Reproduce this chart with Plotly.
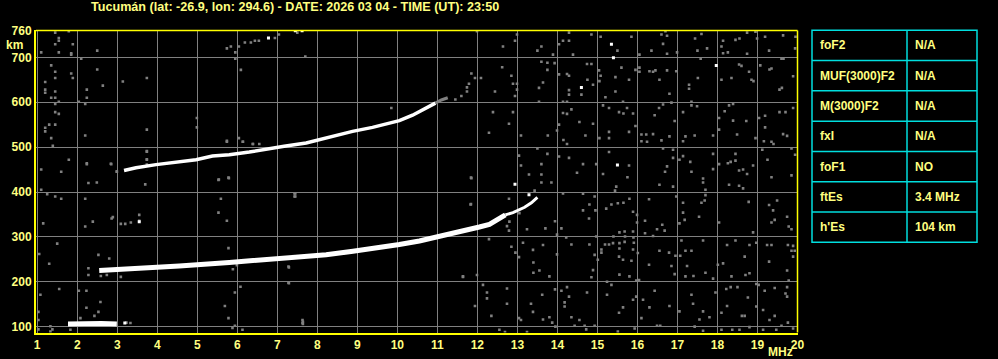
import plotly.graph_objects as go

# ---------------- data ----------------
title_text = "Tucumán (lat: -26.9, lon: 294.6) - DATE: 2026 03 04 - TIME (UT): 23:50"
freq_ticks = list(range(1, 21))
height_ticks = [100, 200, 300, 400, 500, 600, 700, 760]

# F-layer trace (first hop), MHz / km
f1_freq = [2.55, 3.3, 4.55, 5.8, 7.07, 7.72, 8.22, 8.89, 9.39, 10.05, 10.55, 10.97, 11.39, 11.72, 12.05, 12.3, 12.5, 12.7]
f1_height = [225, 228, 235, 243, 252, 255, 260, 268, 274, 283, 291, 299, 308, 316, 322, 328, 338, 349]
f1_end_freq = [12.7, 12.89, 13.18, 13.35, 13.5]
f1_end_height = [349, 354, 366, 376, 388]

# second hop trace
f2_freq = [3.17, 3.47, 3.97, 4.47, 4.97, 5.38, 5.8, 6.3, 6.8, 7.17, 7.72, 8.22, 8.88, 9.38, 9.8, 10.05, 10.38, 10.72, 10.95]
f2_height = [448, 454, 461, 467, 472, 480, 483, 489, 497, 502, 509, 521, 535, 544, 554, 559, 571, 587, 598]
f2_tail_freq = [10.95, 11.1, 11.26]
f2_tail_height = [598, 605, 610]

# sporadic E trace
es_freq = [1.77, 2.0, 2.3, 2.6, 2.99]
es_height = [106, 107, 107, 107, 106]

# isolated bright echoes
spot_points = [(15.35, 729), (15.40, 699), (17.97, 682), (14.60, 633), (15.50, 460),
               (12.94, 417), (13.29, 394), (6.78, 743), (7.45, 759), (7.62, 759),
               (3.55, 334), (3.19, 108)]

# faint echoes / noise
noise_points = [
    # upper right
    (14.29, 755), (14.85, 751), (15.08, 746), (14.04, 729), (14.14, 737), (14.29, 737), (13.89, 706),
    (14.39, 706), (13.50, 715), (13.60, 724), (15.50, 715), (15.85, 746), (16.05, 706), (16.35, 715),
    (16.60, 751), (16.70, 758), (16.74, 748), (16.64, 730), (16.74, 708), (16.99, 711), (17.44, 742),
    (17.60, 752), (17.74, 720), (17.50, 715), (17.58, 697), (18.14, 737), (18.10, 724), (18.14, 709),
    (18.26, 711), (18.45, 739), (18.55, 742), (18.74, 755), (18.74, 708), (18.95, 757), (18.99, 742),
    (19.19, 746), (19.29, 715), (19.64, 749), (19.95, 746), (19.94, 720), (19.65, 697),
    (13.60, 690), (13.75, 688), (13.93, 687), (13.75, 672), (13.64, 644), (13.54, 632), (14.04, 662),
    (14.24, 663), (14.29, 659), (14.74, 685), (14.85, 685), (14.75, 650), (14.89, 639), (14.60, 617),
    (14.29, 627), (14.29, 617), (15.04, 671), (15.08, 659), (15.05, 647), (15.45, 656), (15.60, 677),
    (15.79, 650), (15.45, 624), (15.20, 611), (15.64, 601), (15.95, 672), (16.05, 677), (16.05, 668),
    (16.30, 669), (16.39, 668), (16.45, 671), (16.55, 650), (16.74, 671), (16.80, 619), (16.97, 669),
    (16.85, 599), (17.29, 639), (17.29, 630), (17.35, 601), (17.51, 654), (18.10, 650), (18.35, 654),
    (18.54, 684), (18.60, 681), (18.79, 668), (18.85, 650), (18.90, 647), (19.07, 682), (19.30, 673),
    (19.35, 675), (19.55, 628), (19.61, 632), (19.89, 658), (19.60, 697),
    (13.54, 601), (14.14, 601), (14.24, 601), (14.14, 576), (14.24, 574), (14.35, 584), (14.55, 556),
    (14.04, 550), (13.76, 526), (13.99, 537), (14.24, 507), (14.15, 516), (14.70, 526), (14.89, 552),
    (15.14, 593), (15.29, 587), (15.54, 578), (15.65, 575), (15.74, 587), (15.89, 575), (15.95, 547),
    (15.79, 534), (15.29, 534), (15.29, 520), (15.05, 520), (16.10, 528), (16.22, 528), (16.39, 529),
    (16.10, 513), (16.24, 512), (16.43, 571), (16.54, 587), (16.64, 595), (16.60, 515), (16.80, 524),
    (16.93, 558), (17.14, 578), (17.35, 593), (17.49, 591), (17.20, 524), (17.14, 513), (17.43, 526),
    (17.89, 526), (18.04, 565), (18.04, 539), (18.18, 580), (18.39, 559), (18.29, 593), (18.39, 596),
    (18.49, 528), (18.72, 558), (18.95, 520), (19.04, 565), (19.19, 570), (19.19, 544), (19.55, 578),
    (19.70, 578), (19.89, 587), (19.64, 529), (19.74, 525), (19.40, 507), (19.35, 512), (19.16, 513),
    (13.50, 497), (13.75, 485), (14.04, 479), (13.60, 462), (13.60, 439), (14.29, 476), (14.64, 462),
    (14.49, 443), (14.97, 462), (15.29, 489), (15.14, 440), (15.75, 433), (15.79, 459), (16.64, 497),
    (16.89, 494), (16.89, 476), (16.74, 457), (17.05, 472), (17.14, 480), (17.32, 467), (17.35, 445),
    (16.69, 445), (17.64, 430), (17.89, 485), (17.89, 451), (18.04, 462), (18.26, 464), (18.45, 485),
    (18.45, 470), (18.33, 467), (18.54, 448), (18.64, 450), (18.74, 440), (18.89, 459), (19.12, 494),
    (19.25, 472), (19.35, 433), (19.85, 497), (19.94, 483), (19.85, 437),
    # lower right
    (13.60, 421), (13.85, 421), (14.14, 397), (14.64, 396), (14.93, 390), (14.80, 372), (14.64, 359),
    (14.95, 359), (14.79, 341), (13.94, 335), (13.70, 319), (14.10, 319), (14.22, 299), (13.99, 305),
    (13.55, 225), (13.80, 212), (13.99, 261), (13.64, 282), (14.35, 283), (14.80, 283), (14.97, 301),
    (14.93, 260), (15.01, 249), (14.89, 226), (14.85, 210), (15.47, 412), (15.44, 403), (15.22, 363),
    (15.35, 372), (15.51, 375), (15.65, 376), (15.80, 385), (15.89, 356), (15.99, 349), (15.99, 332),
    (15.68, 312), (15.69, 301), (15.55, 310), (15.40, 301), (15.89, 312), (15.90, 299), (15.19, 283),
    (15.29, 283), (15.39, 286), (15.55, 286), (15.68, 289), (15.91, 287), (15.10, 272), (15.10, 265),
    (15.55, 274), (15.54, 256), (15.64, 249), (15.89, 272), (15.85, 247), (15.55, 216), (15.97, 203),
    (15.80, 212), (15.24, 200), (15.35, 193), (16.55, 416), (16.89, 412), (16.97, 390), (17.14, 376),
    (17.14, 354), (17.18, 338), (17.05, 330), (16.62, 327), (16.68, 314), (16.49, 317), (16.39, 302),
    (16.19, 308), (16.29, 384), (16.19, 336), (16.01, 264), (16.04, 204), (16.29, 238), (16.55, 269),
    (16.79, 265), (16.95, 258), (16.85, 235), (16.93, 217), (17.10, 292), (17.07, 258), (17.20, 269),
    (17.35, 269), (17.24, 235), (17.20, 212), (17.40, 213), (17.64, 421), (17.70, 405), (17.70, 393),
    (17.60, 376), (17.68, 381), (17.54, 345), (18.04, 332), (18.29, 416), (18.54, 414), (18.64, 408),
    (18.78, 378), (19.29, 371), (19.39, 359), (19.49, 381), (19.35, 332), (19.43, 338), (19.74, 345),
    (19.78, 323), (19.85, 317), (18.89, 310), (17.64, 292), (18.24, 282), (18.45, 292), (18.68, 256),
    (18.80, 282), (18.97, 287), (19.24, 282), (19.35, 282), (19.29, 245), (19.76, 282), (19.89, 280),
    (19.85, 269), (19.93, 269), (19.89, 256), (18.01, 238), (18.14, 241), (18.35, 212), (17.89, 207),
    (17.70, 220), (18.70, 215), (18.80, 219), (19.74, 225), (18.97, 195), (19.03, 193), (19.78, 203),
    (18.22, 184), (18.33, 188), (18.50, 188), (19.43, 186), (19.74, 188), (19.18, 180), (19.70, 174),
    (19.74, 167), (18.76, 165), (18.97, 145), (18.68, 124), (18.61, 124), (19.43, 124), (19.14, 137),
    (19.30, 115), (18.10, 131), (18.24, 146), (17.95, 176), (17.80, 121), (17.64, 134), (17.55, 116),
    (17.39, 151), (17.35, 171), (17.05, 134), (17.43, 100), (17.64, 91), (18.10, 93), (18.37, 93),
    (18.55, 93), (18.80, 99), (19.14, 93), (19.76, 109), (19.89, 96), (19.60, 102), (19.47, 93),
    (16.80, 146), (16.49, 102), (16.57, 102), (16.43, 180), (16.30, 143), (16.10, 119), (15.97, 167),
    (15.89, 160), (16.14, 160), (15.64, 143), (15.54, 131), (15.24, 171), (14.74, 176), (14.55, 115),
    (14.43, 102), (14.68, 102), (14.93, 102), (14.35, 121), (14.18, 154), (14.18, 145), (14.29, 167),
    (14.24, 188), (13.94, 183), (13.80, 121), (13.64, 116), (13.87, 109), (13.95, 100), (14.10, 180),
    (13.62, 171), (14.72, 94), (15.51, 89), (15.93, 96),
    # middle
    (7.43, 397), (7.43, 390), (11.83, 372), (12.79, 385), (13.43, 403), (13.05, 353), (12.80, 334),
    (12.74, 324), (12.79, 314), (13.24, 317), (12.29, 295), (12.85, 278), (12.95, 265), (13.14, 287),
    (13.04, 255), (13.39, 271), (13.40, 243), (13.40, 220), (11.64, 212), (11.99, 215), (12.14, 193),
    (12.24, 176), (12.24, 163), (11.94, 146), (12.35, 124), (12.74, 185), (12.74, 151), (13.04, 119),
    (13.09, 115), (13.34, 151), (13.39, 133), (12.55, 93), (12.69, 88), (13.24, 88), (7.29, 232),
    (7.29, 197), (7.64, 111), (7.64, 106),
    (7.70, 702), (11.99, 758), (12.99, 751), (12.94, 737), (12.64, 724), (12.62, 678), (12.85, 659),
    (11.85, 664), (11.94, 654), (12.09, 654), (11.79, 641), (11.74, 633), (11.74, 624), (12.44, 624),
    (12.89, 641), (12.99, 641), (12.99, 628), (12.94, 614), (12.39, 578), (12.89, 578), (12.79, 552),
    (12.29, 532), (13.09, 526), (13.04, 481), (13.09, 459), (13.29, 439), (11.85, 431), (9.85, 587),
    (11.45, 606), (11.60, 614), (7.50, 755),
    # upper left
    (1.45, 755), (1.79, 758), (1.54, 743), (1.54, 737), (1.45, 729), (1.89, 729), (1.10, 711),
    (1.54, 711), (1.85, 709), (1.85, 706), (2.10, 697), (2.50, 715), (1.35, 682), (1.45, 668),
    (1.85, 664), (1.89, 654), (1.45, 654), (1.20, 645), (1.20, 628), (1.20, 621), (1.45, 624),
    (1.35, 610), (1.45, 610), (1.54, 601), (1.45, 596), (2.24, 628), (2.24, 610), (2.04, 601),
    (2.20, 596), (2.50, 673), (2.64, 637), (3.14, 646), (3.74, 654), (1.45, 578), (1.54, 574),
    (1.30, 550), (1.45, 550), (1.20, 543), (1.20, 535), (1.35, 520), (1.39, 503), (2.20, 526),
    (3.74, 539), (1.79, 472), (2.24, 462), (1.10, 450), (1.60, 445), (2.85, 462), (2.99, 445),
    (3.74, 491), (3.74, 472), (3.74, 461), (4.99, 565), (4.99, 544), (5.74, 514), (6.04, 520),
    (6.14, 512), (6.39, 507), (6.55, 507), (6.09, 672), (5.95, 697), (5.74, 720), (5.84, 724),
    (5.95, 711), (6.04, 724), (6.19, 733), (6.34, 733), (6.44, 737), (6.54, 737), (6.94, 743),
    (7.04, 751), (5.54, 428), (5.79, 431),
    # lower left
    (2.24, 464), (2.84, 463), (2.99, 446), (2.28, 420), (2.49, 421), (2.20, 385), (3.70, 417),
    (3.74, 490), (3.74, 473), (2.39, 334), (2.86, 341), (2.89, 344), (3.09, 329), (3.20, 329),
    (3.34, 332), (3.55, 336), (3.55, 349), (2.20, 323), (2.53, 260), (2.80, 252), (2.28, 230),
    (2.28, 215), (2.59, 213), (2.74, 215), (3.09, 211), (5.53, 427), (5.78, 432), (5.59, 385),
    (5.53, 354), (5.74, 336), (5.78, 275), (5.99, 237), (5.89, 228), (7.28, 234), (7.45, 397),
    (7.45, 390), (11.84, 432), (11.84, 373), (11.64, 211), (5.74, 512), (6.14, 512), (6.39, 507),
    (1.08, 171), (1.03, 133), (1.03, 115), (1.33, 101), (1.38, 94), (1.03, 94), (1.33, 89),
    (1.55, 184), (2.04, 180), (2.23, 180), (2.23, 142), (2.58, 155), (2.53, 133), (2.43, 124),
    (2.08, 119), (1.83, 93), (5.69, 146), (5.78, 119), (5.94, 176), (6.08, 189), (5.94, 102),
    (5.88, 97), (6.13, 93), (7.63, 115), (7.63, 108), (7.28, 198), (3.23, 109), (3.33, 108),
    (1.10, 405), (1.25, 395), (1.45, 390), (1.60, 385), (1.15, 330), (1.05, 262), (1.50, 285),
    (1.30, 240),
]

table_labels = ["foF2", "MUF(3000)F2", "M(3000)F2", "fxI", "foF1", "ftEs", "h'Es"]
table_values = ["N/A", "N/A", "N/A", "N/A", "NO", "3.4 MHz", "104 km"]

# ---------------- style ----------------
W, H = 998, 359
YEL_TXT = "#ffff80"
YEL_AX = "#ffff00"
CYAN = "#00dede"
GRID = "#808080"
FONT = dict(family="Liberation Sans, Arial, sans-serif", size=12, color=YEL_TXT, weight="bold")
TITLE_FONT = dict(family="Liberation Sans, Arial, sans-serif", size=12.6, color=YEL_TXT, weight="bold")

def px_x(p):
    return p / W

def px_y(p):
    return 1 - p / H

xd = [px_x(36), px_x(797.5)]
yd = [px_y(332.5), px_y(30.4)]

fig = go.Figure()

noise_f = [p[0] for p in noise_points]
noise_h = [p[1] for p in noise_points]
fig.add_trace(go.Scatter(x=noise_f, y=noise_h, mode="markers",
                         marker=dict(symbol="square", size=2.6, color=GRID, line=dict(width=0)),
                         hoverinfo="skip", cliponaxis=True))

fig.add_trace(go.Scatter(x=f2_tail_freq, y=f2_tail_height, mode="lines",
                         line=dict(color=GRID, width=3), hoverinfo="skip"))
fig.add_trace(go.Scatter(x=f1_freq, y=f1_height, mode="lines",
                         line=dict(color="white", width=5), hoverinfo="skip"))
fig.add_trace(go.Scatter(x=f1_end_freq, y=f1_end_height, mode="lines",
                         line=dict(color="white", width=3), hoverinfo="skip"))
fig.add_trace(go.Scatter(x=f2_freq, y=f2_height, mode="lines",
                         line=dict(color="white", width=3.5), hoverinfo="skip"))
fig.add_trace(go.Scatter(x=es_freq, y=es_height, mode="lines",
                         line=dict(color="white", width=5), hoverinfo="skip"))

spot_f = [p[0] for p in spot_points]
spot_h = [p[1] for p in spot_points]
fig.add_trace(go.Scatter(x=spot_f, y=spot_h, mode="markers",
                         marker=dict(symbol="square", size=3, color="white", line=dict(width=0)),
                         hoverinfo="skip"))

fig.update_layout(
    width=W, height=H, autosize=False,
    margin=dict(l=0, r=0, t=0, b=0, pad=0, autoexpand=False),
    paper_bgcolor="black", plot_bgcolor="black", showlegend=False,
    xaxis=dict(domain=xd, range=[0.97, 20], tickvals=freq_ticks, ticktext=[str(v) for v in freq_ticks],
               showgrid=True, gridcolor=GRID, gridwidth=1, zeroline=False, automargin=False,
               showline=True, linecolor=YEL_AX, linewidth=2, ticks="", tickfont=FONT),
    yaxis=dict(domain=yd, range=[87, 760], tickvals=height_ticks, ticktext=[str(v) for v in height_ticks],
               showgrid=True, gridcolor=GRID, gridwidth=1, zeroline=False, automargin=False,
               showline=True, linecolor=YEL_AX, linewidth=2, ticks="", tickfont=FONT),
)

shapes = [
    dict(type="line", xref="paper", yref="paper", x0=xd[0], x1=xd[1], y0=yd[1], y1=yd[1],
         line=dict(color=YEL_AX, width=1.5)),
    dict(type="line", xref="paper", yref="paper", x0=xd[1], x1=xd[1], y0=yd[0], y1=yd[1],
         line=dict(color=YEL_AX, width=1.5)),
]
# table
tx0, tx1, tmid = 812, 977, 907
ty0, ty1 = 30.3, 242.3
rh = (ty1 - ty0) / len(table_labels)
shapes.append(dict(type="rect", xref="paper", yref="paper", x0=px_x(tx0), x1=px_x(tx1),
                   y0=px_y(ty1), y1=px_y(ty0), line=dict(color=CYAN, width=1.5)))
shapes.append(dict(type="line", xref="paper", yref="paper", x0=px_x(tmid), x1=px_x(tmid),
                   y0=px_y(ty1), y1=px_y(ty0), line=dict(color=CYAN, width=1.5)))
annotations = []
for i, (lab, val) in enumerate(zip(table_labels, table_values)):
    if i > 0:
        yy = ty0 + i * rh
        shapes.append(dict(type="line", xref="paper", yref="paper", x0=px_x(tx0), x1=px_x(tx1),
                           y0=px_y(yy), y1=px_y(yy), line=dict(color=CYAN, width=1.5)))
    yc = ty0 + (i + 0.5) * rh
    annotations.append(dict(text=lab, x=px_x(818), y=px_y(yc), xref="paper", yref="paper",
                            xanchor="left", yanchor="middle", showarrow=False, font=FONT))
    annotations.append(dict(text=val, x=px_x(913), y=px_y(yc), xref="paper", yref="paper",
                            xanchor="left", yanchor="middle", showarrow=False, font=FONT))

annotations.append(dict(text=title_text, x=px_x(295), y=px_y(7), xref="paper", yref="paper",
                        xanchor="center", yanchor="middle", showarrow=False, font=TITLE_FONT))
annotations.append(dict(text="km", x=px_x(14), y=px_y(45), xref="paper", yref="paper",
                        xanchor="center", yanchor="middle", showarrow=False, font=FONT))
annotations.append(dict(text="MHz", x=px_x(780), y=px_y(352), xref="paper", yref="paper",
                        xanchor="center", yanchor="middle", showarrow=False, font=FONT))

fig.update_layout(shapes=shapes, annotations=annotations)
fig.write_html("out.html")
